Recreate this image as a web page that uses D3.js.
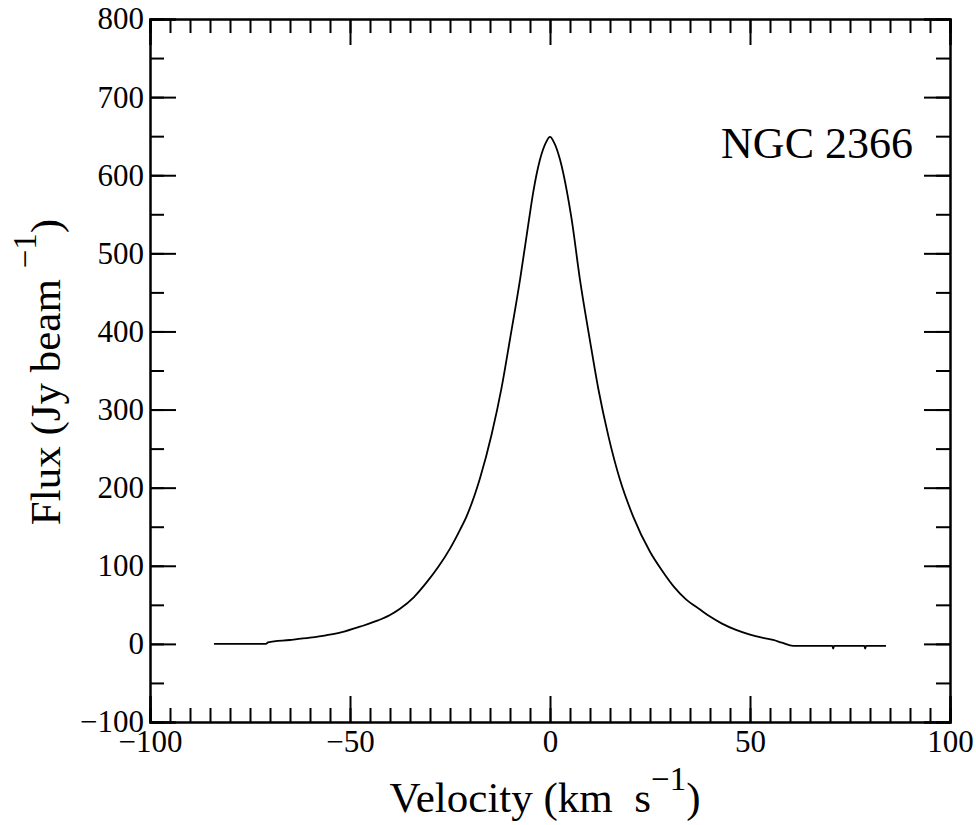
<!DOCTYPE html>
<html>
<head>
<meta charset="utf-8">
<script src="https://cdn.jsdelivr.net/npm/d3@7"></script>
<style>
  body { margin: 0; background: #fff; }
  svg text { font-family: "Liberation Serif", "DejaVu Serif", serif; fill: #000; }
  .axis path, .axis line { stroke: #000; stroke-width: 2px; }
</style>
</head>
<body>
<div class="content"></div>
<script>
// скорость, км/с
var velocity = [-84, -71, -70.5, -65, -60, -56, -52, -47.5, -43, -40, -37.5, -34, -30.8, -28, -25,
    -22.5, -20.8, -17.5, -14.6, -12.1, -10, -7.5, -5.4, -4.2, -2.5, -1, 0, 1, 2.5, 4.2,
    5.4, 7.5, 10, 12.1, 14.6, 17.5, 20.8, 25, 28, 31, 34, 37.5, 40, 43, 46.5,
    50, 53, 55.8, 58, 60.8, 65, 70.6, 70.8, 71, 78.6, 78.8, 79, 84];

// поток, Jy/beam
var flux = [0, 0, 2, 5, 8, 11, 15, 22, 30, 37, 45, 60, 79, 98, 122,
    146, 164, 212, 268, 328, 390, 466, 538, 578, 620, 642, 649, 642, 620, 580,
    544, 466, 388, 326, 266, 210, 163, 118, 94, 73, 57, 44, 35, 26, 18,
    12, 8, 5, 1.5, -2.5, -2.5, -2.5, -6, -2.5, -2.5, -6, -2.5, -2.5];

// подписи
var xTicks = [-100, -50, 0, 50, 100];
var yTicks = [-100, 0, 100, 200, 300, 400, 500, 600, 700, 800];
var label = 'NGC 2366';

// размеры картинки
var w = 976,
    h = 825;
var margin = {left: 150, top: 19, right: 26, bottom: 103};
var iw = w - margin.left - margin.right,
    ih = h - margin.top - margin.bottom;

var svg = d3.select('.content').append('svg')
    .attr('width', w)
    .attr('height', h);
var g = svg.append('g')
    .attr('transform', 'translate(' + margin.left + ',' + margin.top + ')');

var x = d3.scaleLinear().domain([-100, 100]).range([0, iw]);
var y = d3.scaleLinear().domain([-100, 800]).range([ih, 0]);

var xMinor = d3.range(-100, 101, 5);
var yMinor = d3.range(-100, 801, 50);

// малые засечки
g.append('g').attr('class', 'axis').attr('transform', 'translate(0,' + ih + ')')
    .call(d3.axisBottom(x).tickValues(xMinor).tickSize(-14).tickFormat(''));
g.append('g').attr('class', 'axis')
    .call(d3.axisTop(x).tickValues(xMinor).tickSize(-14).tickFormat(''));
g.append('g').attr('class', 'axis')
    .call(d3.axisLeft(y).tickValues(yMinor).tickSize(-14).tickFormat(''));
g.append('g').attr('class', 'axis').attr('transform', 'translate(' + iw + ',0)')
    .call(d3.axisRight(y).tickValues(yMinor).tickSize(-14).tickFormat(''));

// большие засечки с подписями
var xAxis = g.append('g').attr('class', 'axis').attr('transform', 'translate(0,' + ih + ')')
    .call(d3.axisBottom(x).tickValues(xTicks).tickSize(-26).tickPadding(8));
g.append('g').attr('class', 'axis')
    .call(d3.axisTop(x).tickValues(xTicks).tickSize(-26).tickFormat(''));
var yAxis = g.append('g').attr('class', 'axis')
    .call(d3.axisLeft(y).tickValues(yTicks).tickSize(-26).tickPadding(6));
g.append('g').attr('class', 'axis').attr('transform', 'translate(' + iw + ',0)')
    .call(d3.axisRight(y).tickValues(yTicks).tickSize(-26).tickFormat(''));

xAxis.selectAll('text').style('font-size', '31px');
yAxis.selectAll('text').style('font-size', '31px');

// кривая
var line = d3.line()
    .x(function(d, i) { return x(velocity[i]); })
    .y(function(d) { return y(d); })
    .curve(d3.curveMonotoneX);

g.append('path')
    .datum(flux)
    .attr('d', line)
    .attr('fill', 'none')
    .attr('stroke', '#000')
    .attr('stroke-width', 1.8);

// подпись объекта
g.append('text')
    .attr('x', iw - 37)
    .attr('y', y(622))
    .attr('text-anchor', 'end')
    .style('font-size', '44px')
    .text(label);

// подписи осей
var xl = svg.append('text')
    .attr('x', 545)
    .attr('y', 812)
    .attr('text-anchor', 'middle')
    .style('font-size', '43px');
xl.append('tspan').text('Velocity (km\u00a0\u00a0s');
xl.append('tspan').attr('dy', -22).style('font-size', '33px').text('\u22121');
xl.append('tspan').attr('dy', 22).text(')');

var yl = svg.append('text')
    .attr('transform', 'translate(60,372) rotate(-90)')
    .attr('text-anchor', 'middle')
    .style('font-size', '43px');
yl.append('tspan').text('Flux (Jy beam ');
yl.append('tspan').attr('dy', -24).style('font-size', '33px').text('\u22121');
yl.append('tspan').attr('dy', 24).text(')');
</script>
</body>
</html>
